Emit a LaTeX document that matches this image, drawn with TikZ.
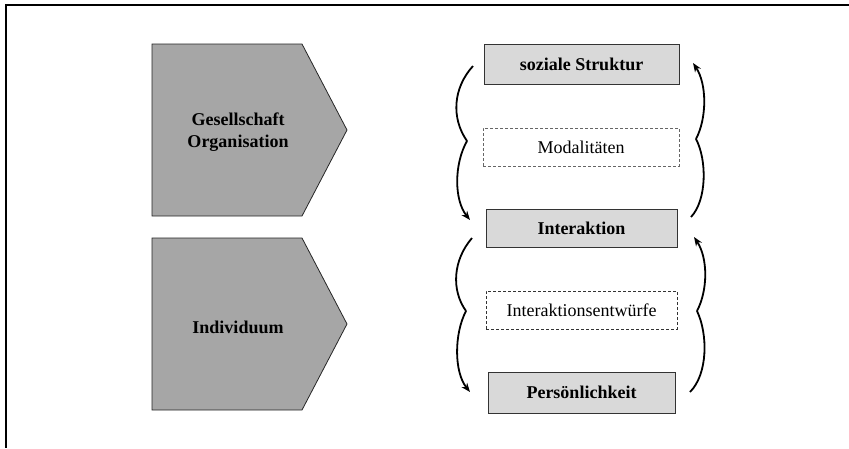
\documentclass[tikz,border=0pt]{standalone}
\usepackage{fontspec}
\setmainfont{Liberation Serif}
\usetikzlibrary{arrows.meta}
\definecolor{pentfill}{HTML}{A6A6A6}
\definecolor{boxfill}{HTML}{D9D9D9}
\definecolor{dashgray}{HTML}{666666}
\definecolor{dashdark}{HTML}{333333}
\tikzset{
  pent/.style={fill=pentfill, draw=black!85, line width=0.8pt},
  pentlabel/.style={font=\fontsize{18}{22}\selectfont\bfseries, align=center, inner sep=0pt},
  solidbox/.style={draw=black!80, fill=boxfill, line width=1pt, inner sep=0pt,
    font=\fontsize{18}{22}\selectfont\bfseries},
  dashbox/.style={draw=dashgray, fill=white, line width=0.9pt, dash pattern=on 3pt off 2pt,
    inner sep=0pt, font=\fontsize{18}{22}\selectfont},
  arc/.style={line width=1.8pt, black},
  arcarrow/.style={arc, -{Stealth[length=9pt,width=7pt]}},
  frameline/.style={line width=2pt, black}
}
\begin{document}
\begin{tikzpicture}[x=1pt,y=-1pt]
\useasboundingbox (0,0) rectangle (849,448);
% frame (top and left edges)
\coordinate (fTR) at (849,5);
\coordinate (fTL) at (6,5);
\coordinate (fBL) at (6,448);
\draw[frameline] (fTR) -- (fTL) -- (fBL);

% pentagons
\draw[pent] (152,44) -- (302,44) -- (347,130) -- (302,216) -- (152,216) -- cycle;
\draw[pent] (152,238) -- (302,238) -- (347,324) -- (302,410) -- (152,410) -- cycle;
\node[pentlabel] (ges) at (238,132) {Gesellschaft\\Organisation};
\node[pentlabel] (ind) at (238,327) {Individuum};

% boxes
\node[solidbox, minimum width=195pt, minimum height=40pt] (soz) at (581.5,64) {soziale Struktur};
\node[dashbox, minimum width=196pt, minimum height=38pt] (mod) at (581,147) {Modalitäten};
\node[solidbox, minimum width=191pt, minimum height=38pt] (int) at (581.5,228) {Interaktion};
\node[dashbox, draw=dashdark, minimum width=191pt, minimum height=38pt] (ien) at (581.5,310) {Interaktionsentwürfe};
\node[solidbox, minimum width=187pt, minimum height=41pt] (per) at (581.5,392.5) {Persönlichkeit};

% arc end points
\coordinate (l1a) at (473,66);
\coordinate (l1m) at (467,141);
\coordinate (l1b) at (470,220);
\coordinate (r1a) at (691,217);
\coordinate (r1m) at (696,139);
\coordinate (r1b) at (693,63);
\coordinate (l2a) at (472,238);
\coordinate (l2m) at (466,311);
\coordinate (l2b) at (470,392);
\coordinate (r2a) at (690,392);
\coordinate (r2m) at (697,311);
\coordinate (r2b) at (694,237);

% upper arcs
\draw[arc] (l1a) .. controls (453,88) and (451,118) .. (l1m);
\draw[arcarrow] (l1m) .. controls (454,164) and (454,200) .. (l1b);
\draw[arc] (r1a) .. controls (707,200) and (707,160) .. (r1m);
\draw[arcarrow] (r1m) .. controls (707,118) and (707,84) .. (r1b);
% lower arcs
\draw[arc] (l2a) .. controls (453,260) and (451,290) .. (l2m);
\draw[arcarrow] (l2m) .. controls (454,334) and (454,372) .. (l2b);
\draw[arc] (r2a) .. controls (708,374) and (708,334) .. (r2m);
\draw[arcarrow] (r2m) .. controls (708,290) and (708,258) .. (r2b);
\end{tikzpicture}
\end{document}
